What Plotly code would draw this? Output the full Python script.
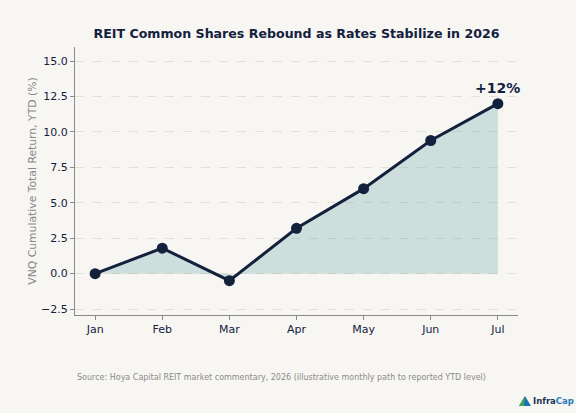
import plotly.graph_objects as go

# monthly path
months = ["Jan", "Feb", "Mar", "Apr", "May", "Jun", "Jul"]
ytd_return = [0.0, 1.8, -0.5, 3.2, 6.0, 9.4, 12.0]
y_ticks = [-2.5, 0.0, 2.5, 5.0, 7.5, 10.0, 12.5, 15.0]
y_tick_labels = ["\u22122.5", "0.0", "2.5", "5.0", "7.5", "10.0", "12.5", "15.0"]

navy = "#14213d"
bg = "#f7f6f3"
font_family = "DejaVu Sans"

W, H = 576, 413
L, R, T, B = 75, 58, 47, 98


def px(x, y):
    # pixel position on the page -> paper coords
    return (x - L) / (W - L - R), (H - B - y) / (H - T - B)


fig = go.Figure()
fig.add_trace(go.Scatter(
    x=list(range(len(months))),
    y=ytd_return,
    mode="lines+markers",
    fill="tozeroy",
    fillcolor="rgba(47,130,132,0.2)",
    line=dict(color=navy, width=3),
    marker=dict(color=navy, size=11),
    hoverinfo="skip",
    showlegend=False,
))

fig.update_layout(
    width=W,
    height=H,
    paper_bgcolor=bg,
    plot_bgcolor=bg,
    margin=dict(l=L, r=R, t=T, b=B),
    font=dict(family=font_family, color=navy, size=11),
    title=dict(
        text="<b>REIT Common Shares Rebound as Rates Stabilize in 2026</b>",
        x=0.5, xref="paper", xanchor="center",
        y=1 - 34 / H, yref="container", yanchor="middle",
        font=dict(size=12.6, color=navy),
    ),
    xaxis=dict(
        range=[-0.3, 6.3],
        tickvals=list(range(len(months))),
        ticktext=months,
        showgrid=False,
        zeroline=False,
        showline=True, linecolor="#8a8a8a", linewidth=1,
        ticks="outside", ticklen=4, tickcolor="#8a8a8a",
        tickfont=dict(size=11, color=navy),
        fixedrange=True,
    ),
    yaxis=dict(
        range=[-2.92, 16.0],
        tickvals=y_ticks,
        ticktext=y_tick_labels,
        showgrid=True, gridcolor="#e3e0d8", griddash="dash", gridwidth=1,
        zeroline=False,
        showline=True, linecolor="#8a8a8a", linewidth=1,
        ticks="outside", ticklen=4, tickcolor="#8a8a8a",
        tickfont=dict(size=11, color=navy),
        title=dict(text="VNQ Cumulative Total Return, YTD (%)",
                   font=dict(size=10.8, color="#888888"), standoff=2),
        fixedrange=True,
    ),
)

# end-of-path label
fig.add_annotation(
    x=len(months) - 1, y=ytd_return[-1],
    text="<b>+12%</b>",
    showarrow=False,
    yshift=16,
    font=dict(size=14, color=navy),
)

# source line
sx, sy = px(75, 377)
fig.add_annotation(
    xref="paper", yref="paper", x=sx, y=sy,
    xanchor="left", yanchor="middle",
    text="Source: Hoya Capital REIT market commentary, 2026 (illustrative monthly path to reported YTD level)",
    showarrow=False,
    font=dict(size=8, color="#8a8a8a"),
)

# little InfraCap logo, bottom right
a, b, c, d = px(519, 406), px(525, 396), px(531, 406), px(524, 406)
fig.add_shape(
    type="path", xref="paper", yref="paper",
    path=f"M {a[0]} {a[1]} L {b[0]} {b[1]} L {c[0]} {c[1]} Z",
    fillcolor="#1b6fb5", line=dict(width=0),
)
fig.add_shape(
    type="path", xref="paper", yref="paper",
    path=f"M {a[0]} {a[1]} L {b[0]} {b[1]} L {d[0]} {d[1]} Z",
    fillcolor="#3aa657", line=dict(width=0),
)
tx, ty = px(531, 401)
fig.add_annotation(
    xref="paper", yref="paper", x=tx, y=ty,
    xanchor="left", yanchor="middle",
    text="<b>Infra</b><b><span style='color:#2a7ab8'>Cap</span></b>",
    showarrow=False,
    font=dict(size=8.5, color="#1d3557"),
)

# drop the default 8px page margin so the figure sits at the window's corner
fig.write_html(
    "out.html",
    config={"displayModeBar": False},
    post_script="document.body.style.margin='0';document.body.style.background='#f7f6f3';",
)
